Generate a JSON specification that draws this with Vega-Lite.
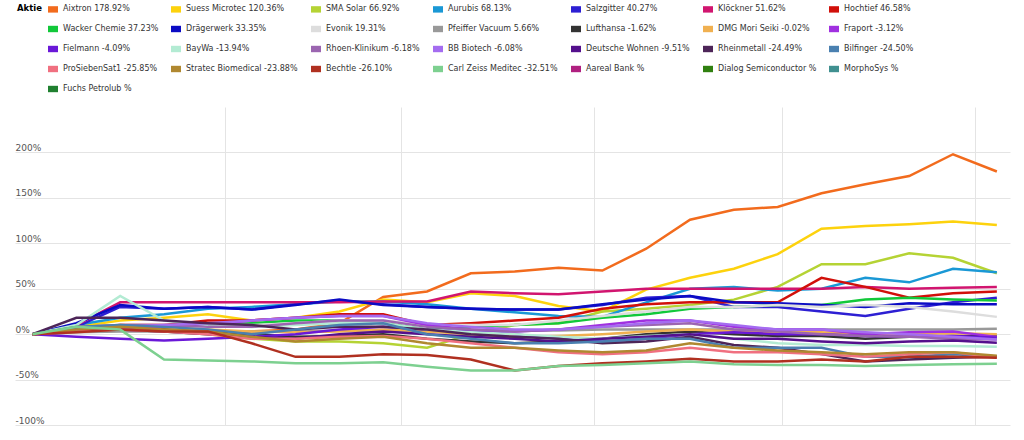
{
  "$schema": "https://vega.github.io/schema/vega-lite/v6.json",
  "width": 1024,
  "height": 440,
  "autosize": {"type": "fit", "contains": "padding"},
  "padding": {"left": 14, "top": 2, "right": 14, "bottom": 14},
  "background": "white",
  "config": {
    "font": "DejaVu Sans",
    "view": {"stroke": null}
  },
  "data": {
    "values": [
      {"k": "Aixtron", "label": "Aixtron  178.92%", "v": [0,5,5,5,3,3,5,12,41,47,67,69,73,70,94,126,137,140,155,165,174,198,179]},
      {"k": "Suess", "label": "Suess Microtec  120.36%", "v": [0,8,15,18,22,15,18,25,38,35,45,42,31,25,49,62,72,88,116,119,121,124,120]},
      {"k": "SMA", "label": "SMA Solar  66.92%", "v": [0,5,5,3,0,-5,-8,-8,-10,-15,0,10,12,25,28,32,38,52,77,77,89,84,67]},
      {"k": "Aurubis", "label": "Aurubis  68.13%", "v": [0,10,18,22,28,30,33,36,36,33,28,24,20,19,35,50,52,48,50,62,57,72,68]},
      {"k": "Salzgitter", "label": "Salzgitter  40.27%", "v": [0,8,30,28,30,27,33,37,33,30,28,27,27,32,40,42,30,30,25,20,28,35,40]},
      {"k": "Kloeckner", "label": "Klöckner  51.62%", "v": [0,10,35,35,35,35,35,35,36,36,47,45,44,47,50,50,50,50,50,52,50,51,52]},
      {"k": "Hochtief", "label": "Hochtief  46.58%", "v": [0,5,10,10,15,15,18,22,22,10,12,15,18,28,33,35,35,35,62,52,40,45,47]},
      {"k": "Wacker", "label": "Wacker Chemie  37.23%", "v": [0,3,5,8,10,12,15,15,12,5,8,10,12,18,22,28,30,32,32,38,40,38,37]},
      {"k": "Draeger", "label": "Drägerwerk  33.35%", "v": [0,12,32,28,30,27,32,38,32,30,28,27,27,33,38,42,35,34,32,30,34,33,33]},
      {"k": "Evonik", "label": "Evonik  19.31%", "v": [0,5,8,10,10,10,12,15,15,10,10,10,15,20,25,30,30,32,30,32,30,25,19]},
      {"k": "Pfeiffer", "label": "Pfeiffer Vacuum  5.66%", "v": [0,2,3,3,3,3,3,4,4,3,3,4,4,5,5,5,5,5,5,5,5,5,6]},
      {"k": "Lufthansa", "label": "Lufthansa  -1.62%", "v": [0,5,8,5,3,0,-3,-2,0,-5,-8,-10,-8,-5,0,3,0,-2,-2,-5,-3,-2,-2]},
      {"k": "DMG", "label": "DMG Mori Seiki  -0.02%", "v": [0,8,10,8,5,3,2,3,5,3,0,-3,-2,0,3,5,3,2,2,0,0,1,0]},
      {"k": "Fraport", "label": "Fraport  -3.12%", "v": [0,5,5,8,10,15,18,20,20,10,5,3,5,10,15,15,8,5,5,0,2,3,-3]},
      {"k": "Fielmann", "label": "Fielmann  -4.09%", "v": [0,-3,-5,-7,-5,-3,0,5,8,5,3,0,-5,-8,-5,0,2,0,0,-2,-3,-2,-4]},
      {"k": "BayWa", "label": "BayWa  -13.94%", "v": [0,10,42,15,10,8,10,12,12,5,2,0,-3,-5,-2,0,-5,-10,-12,-12,-13,-13,-14]},
      {"k": "Rhoen", "label": "Rhoen-Klinikum  -6.18%", "v": [0,8,10,10,8,8,12,15,15,8,5,3,5,8,10,12,5,3,0,-2,-3,-5,-6]},
      {"k": "BBBiotech", "label": "BB Biotech  -6.08%", "v": [0,5,8,10,12,15,18,20,20,12,8,5,5,8,12,15,10,5,5,2,0,-3,-6]},
      {"k": "DW", "label": "Deutsche Wohnen  -9.51%", "v": [0,5,5,3,0,-3,-5,0,3,0,-3,-5,-8,-5,-3,0,-5,-5,-8,-10,-8,-7,-9.5]},
      {"k": "Rheinmetall", "label": "Rheinmetall  -24.49%", "v": [0,18,18,15,12,10,5,8,8,5,0,-3,-5,-10,-8,-3,-12,-15,-22,-30,-28,-26,-24.5]},
      {"k": "Bilfinger", "label": "Bilfinger  -24.50%", "v": [0,8,10,8,5,0,5,10,12,0,-5,-10,-10,-8,-5,-5,-15,-15,-15,-25,-25,-22,-24.5]},
      {"k": "ProSieben", "label": "ProSiebenSat1  -25.85%", "v": [0,3,5,3,0,-5,-5,-3,-2,-5,-10,-15,-20,-22,-20,-15,-20,-20,-22,-25,-22,-20,-25.85]},
      {"k": "Stratec", "label": "Stratec Biomedical  -23.88%", "v": [0,5,8,5,3,-3,-8,-5,-3,-10,-15,-15,-18,-20,-18,-10,-15,-18,-20,-22,-20,-20,-23.88]},
      {"k": "Bechtle", "label": "Bechtle  -26.10%", "v": [0,2,5,3,3,-10,-25,-25,-22,-23,-28,-40,-35,-32,-30,-27,-30,-30,-28,-30,-25,-25,-26.1]},
      {"k": "Zeiss", "label": "Carl Zeiss Meditec  -32.51%", "v": [0,8,5,-28,-29,-30,-32,-32,-31,-36,-40,-40,-35,-34,-32,-30,-33,-34,-34,-35,-34,-33,-32.5]}
    ]
  },
  "transform": [
    {"flatten": ["v"]},
    {"window": [{"op": "row_number", "as": "i"}], "groupby": ["k"]}
  ],
  "mark": {"type": "line", "strokeWidth": 2.5, "interpolate": "linear"},
  "encoding": {
    "x": {
      "field": "i", "type": "quantitative", "title": null,
      "scale": {"domain": [0.6, 23.3], "nice": false, "zero": false},
      "axis": {"values": [5.4, 9.4, 13.8, 18.1, 22.5], "labels": false, "ticks": false, "domain": false, "grid": true, "gridColor": "#e4e4e4"}
    },
    "y": {
      "field": "v", "type": "quantitative", "title": null,
      "scale": {"domain": [-100, 250], "nice": false},
      "axis": {"values": [-100, -50, 0, 50, 100, 150, 200], "labelExpr": "datum.value + '%'", "labelAlign": "left", "labelBaseline": "bottom", "labelPadding": 0, "tickSize": 0, "domain": false, "gridColor": "#e4e4e4", "labelFontSize": 9, "labelColor": "#555"}
    },
    "order": {"field": "i"},
    "color": {
      "field": "label", "type": "nominal", "title": "Aktie",
      "scale": {
        "domain": ["Aixtron  178.92%", "Suess Microtec  120.36%", "SMA Solar  66.92%", "Aurubis  68.13%", "Salzgitter  40.27%", "Klöckner  51.62%", "Hochtief  46.58%",
                   "Wacker Chemie  37.23%", "Drägerwerk  33.35%", "Evonik  19.31%", "Pfeiffer Vacuum  5.66%", "Lufthansa  -1.62%", "DMG Mori Seiki  -0.02%", "Fraport  -3.12%",
                   "Fielmann  -4.09%", "BayWa  -13.94%", "Rhoen-Klinikum  -6.18%", "BB Biotech  -6.08%", "Deutsche Wohnen  -9.51%", "Rheinmetall  -24.49%", "Bilfinger  -24.50%",
                   "ProSiebenSat1  -25.85%", "Stratec Biomedical  -23.88%", "Bechtle  -26.10%", "Carl Zeiss Meditec  -32.51%", "Aareal Bank  %", "Dialog Semiconductor  %",
                   "MorphoSys  %", "Fuchs Petrolub  %"],
        "range": ["#f26b1d", "#fdd20d", "#b5d334", "#1a98d5", "#2d1fd3", "#d1156f", "#d1100a",
                  "#12c83a", "#0b0bc4", "#dddddd", "#999999", "#333333", "#f0b050", "#a030e0",
                  "#6a18d8", "#b3ebd3", "#9b65b0", "#a46cf0", "#54108c", "#4d2558", "#4a80b0",
                  "#f07080", "#b08830", "#b03020", "#7dd090", "#b02080", "#308010",
                  "#409090", "#208030"]
      },
      "legend": {
        "orient": "top", "direction": "horizontal", "columns": 7, "titleOrient": "left", "titleAnchor": "start",
        "titleFontSize": 8.5, "titleFontWeight": "bold", "titleColor": "#000", "titlePadding": 6,
        "labelFontSize": 8, "labelColor": "#333", "labelLimit": 200, "labelOffset": 5,
        "symbolType": "M-1,-0.4H1V0.4H-1Z", "symbolSize": 36, "symbolStrokeWidth": 4,
        "columnPadding": 4, "rowPadding": 0, "padding": 2, "offset": 6
      }
    }
  }
}
